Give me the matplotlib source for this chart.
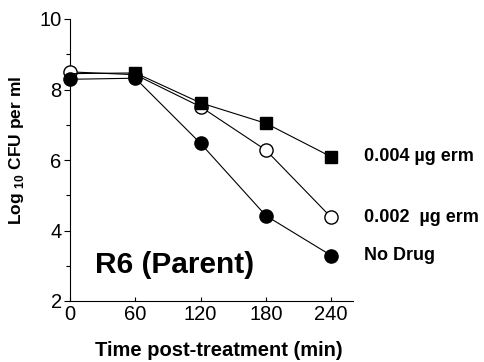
import matplotlib
matplotlib.use("Agg")
from matplotlib import pyplot as plt
from matplotlib import ticker as mticker

plt.rcParams["font.family"] = ["Liberation Sans", "DejaVu Sans"]
plt.rcParams["mathtext.fontset"] = "custom"
plt.rcParams["mathtext.rm"] = "Liberation Sans:bold"
plt.rcParams["mathtext.bf"] = "Liberation Sans:bold"

# Data (time in min, log10 CFU/ml)
time = [0, 60, 120, 180, 240]
erm_004 = [8.45, 8.47, 7.62, 7.04, 6.09]
erm_002 = [8.5, 8.42, 7.51, 6.28, 4.37]
no_drug = [8.29, 8.32, 6.47, 4.42, 3.29]
labels = ["0.004 \u00b5g erm", "0.002  \u00b5g erm", "No Drug"]

fig = plt.figure(figsize=(4.84, 3.62), dpi=100)
ax = fig.add_axes([70 / 484, 1 - 301 / 362, 283 / 484, 282 / 362])

# Squares: marker at t=0 hidden behind the circles in the original
ax.plot(time, erm_004, color="k", lw=0.8, marker="s", ms=8.5, mfc="k", mec="k",
        markevery=[1, 2, 3, 4], zorder=5, clip_on=False)
ax.plot(time, erm_002, color="k", lw=0.8, marker="o", ms=9.5, mfc="white", mec="k",
        mew=1.0, zorder=3, clip_on=False)
ax.plot(time, no_drug, color="k", lw=0.8, marker="o", ms=9.5, mfc="k", mec="k",
        zorder=4, clip_on=False)

# series labels on the right
for lab, series in zip(labels, [erm_004, erm_002, no_drug]):
    ax.text(270, series[-1], lab, fontsize=13, fontweight="bold", va="center",
            ha="left", clip_on=False)

ax.text(0.088, 0.099, "R6 (Parent)", transform=ax.transAxes, fontsize=21.5,
        fontweight="bold", va="baseline", ha="left")

## Axes
ax.set_xlim(0, 260)
ax.set_ylim(2, 10)
ax.spines["top"].set_visible(False)
ax.spines["right"].set_visible(False)
ax.spines["left"].set_linewidth(0.8)
ax.spines["bottom"].set_linewidth(0.8)

ax.set_xticks(time)
ax.set_yticks([2, 4, 6, 8, 10])
ax.yaxis.set_minor_locator(mticker.FixedLocator([3, 5, 7, 9]))
ax.tick_params(axis="x", direction="in", length=3, width=0.8, labelsize=14.5, pad=3)
ax.tick_params(axis="y", which="major", direction="out", length=4, width=0.8,
               labelsize=14.5, pad=2)
ax.tick_params(axis="y", which="minor", direction="out", length=3, width=0.8)

fig.text(219 / 484, 1 - 350 / 362, "Time post-treatment (min)", fontsize=14.5,
         fontweight="bold", ha="center", va="center")
fig.text(17 / 484, 1 - 150 / 362, "Log $_{10}$ CFU per ml", fontsize=12.5,
         fontweight="bold", rotation=90, ha="center", va="center")

fig.savefig("out.png", dpi=100)
